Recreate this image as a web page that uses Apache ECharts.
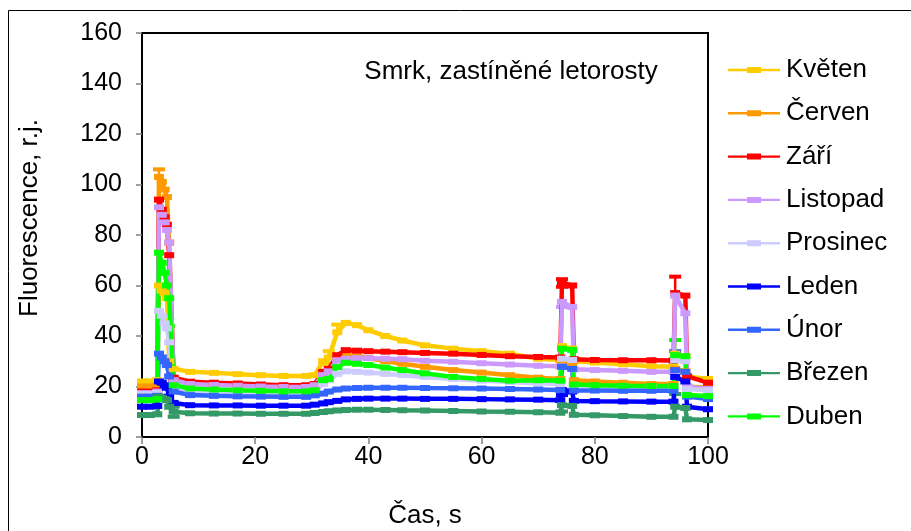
<!DOCTYPE html>
<html>
<head>
<meta charset="utf-8">
<script src="https://cdn.jsdelivr.net/npm/echarts@6/dist/echarts.min.js"></script>
<style>
  html, body { margin: 0; padding: 0; background: #fff; }
  #chart { width: 911px; height: 531px; }
</style>
</head>
<body>
<div id="chart"></div>
<script>
// Measurement times (s)
const times = [0, 1.4, 2.7, 3.0, 3.5, 4.0, 4.4, 4.8, 5.6, 8.5, 12.7, 16.9, 21, 25, 29,
  30.5, 32, 33, 34.5, 36, 38, 40, 43, 46, 50, 55, 60, 65, 70,
  73.9, 74.2, 76.0, 76.3, 80, 85, 90, 93.9, 94.2, 96.0, 96.3, 100];

// Fluorescence (r.j.) per month, aligned with `times`
const kveten   = [22, 22, 22.5, 60, 58, 57, 55, 30, 27, 25.8, 25.4, 24.9, 24.5, 24.2, 24.2,
  24.5, 30, 31.5, 41.5, 45.2, 44.3, 42.3, 40, 38.2, 36.3, 35, 34, 33, 31,
  30.5, 36, 35, 30, 29.5, 28.8, 28, 27.8, 33, 32, 24, 23];
const cerven   = [20, 20, 20.5, 103, 101, 98, 95, 77, 23, 21.5, 21, 20.8, 20.4, 20.1, 20,
  21, 25, 26.5, 31, 32.5, 32, 31.3, 30, 29, 27.8, 26.5, 25.5, 24.5, 23.5,
  23, 30, 29, 22.5, 22, 21.5, 21, 21, 27, 26, 20, 19.5];
const zari     = [18, 18, 18.5, 94, 90, 87, 84, 72, 23.5, 21.9, 21.5, 21.2, 20.8, 20.5, 20.5,
  21, 25.8, 27, 32.4, 34.4, 34.2, 34, 33.8, 33.6, 33.3, 33, 32.5, 32, 31.7,
  31.5, 61, 60, 30.8, 30.5, 30.4, 30.4, 30.3, 57, 56, 24, 21.5];
const listopad = [17.4, 17.4, 18, 91, 88, 85, 82, 77, 22.5, 21, 20.6, 20.3, 20, 19.8, 19.8,
  20.5, 24.5, 26, 30.4, 31, 31.2, 31.2, 31, 30.8, 30.2, 29.8, 29.2, 28.7, 28.2,
  28, 53.5, 51.5, 26.8, 26.5, 26.2, 25.8, 25.8, 56, 49, 20, 19];
const prosinec = [17, 17, 17.5, 50, 48, 45, 43, 37.5, 19.5, 18, 17.8, 17.5, 17.3, 17.2, 17.2,
  18, 21, 22.5, 25, 26, 25.8, 25.5, 25, 24.5, 23.8, 23, 22.3, 21.8, 21.2,
  21, 31, 30.5, 20.5, 20.2, 20, 19.8, 19.7, 30.4, 30, 19, 18.5];
const leden    = [12, 12, 12.3, 22, 21.5, 20.5, 19.5, 16, 13.5, 12.6, 12.5, 12.5, 12.4, 12.4, 12.4,
  12.8, 13.3, 13.8, 14.3, 14.9, 15.1, 15.2, 15.2, 15.2, 15.1, 15.1, 15, 14.9, 14.8,
  14.6, 18.6, 18, 14.3, 14.2, 14.1, 14, 14, 23.8, 22, 12, 11];
const unor     = [16, 16, 16.3, 33, 31.5, 30, 28.5, 24, 18, 16.6, 16.3, 16.1, 16, 15.9, 15.9,
  16.5, 17.2, 18, 18.8, 19.2, 19.4, 19.5, 19.5, 19.5, 19.4, 19.3, 19.2, 19, 18.8,
  18.6, 27.8, 27, 18.4, 18.4, 18.3, 18.3, 18.3, 26.5, 25.8, 16, 15];
const brezen   = [8.7, 8.7, 9, 16, 15.5, 15, 14.6, 12, 10, 9.4, 9.3, 9.3, 9.2, 9.2, 9.2,
  9.5, 9.9, 10.2, 10.5, 10.7, 10.8, 10.8, 10.7, 10.6, 10.5, 10.3, 10.1, 10, 9.8,
  9.6, 12.6, 12.3, 8.8, 8.6, 8.3, 8, 8, 12, 11.5, 7, 6.7];
const duben    = [14.6, 14.6, 15, 73, 69, 65, 60, 55, 20.5, 19.2, 18.8, 18.5, 18.3, 18.1, 18.1,
  18.5, 22.5, 23, 27.7, 29.4, 29, 28.5, 27.5, 26.5, 25.2, 23.8, 23, 22.3, 22.5,
  22.3, 35, 34.5, 20.8, 20.5, 20.3, 20.2, 20.2, 32.4, 32, 16.6, 16.2];

// Error bars: [time, minus, plus]
const errKveten   = [[33, 2.5, 2.5], [34.5, 0, 3]];
const errCerven   = [[3.0, 0, 3]];
const errZari     = [[74.2, 1.5, 1.5], [94.2, 0, 6.5]];
const errListopad = [[74.2, 2, 0]];
const errProsinec = [];
const errLeden    = [[74.2, 2, 0]];
const errUnor     = [[94.2, 0, 7.5]];
const errBrezen   = [[5.6, 2, 2], [74.2, 2.5, 0], [94.2, 0, 5]];
const errDuben    = [[4.8, 11, 0], [94.2, 0, 6]];

const names  = ['Květen', 'Červen', 'Září', 'Listopad', 'Prosinec', 'Leden', 'Únor', 'Březen', 'Duben'];
const colors = ['#FFCC00', '#FF9900', '#FF0000', '#CC99FF', '#CCCCFF', '#0000FF', '#3366FF', '#339966', '#00FF00'];
const values = [kveten, cerven, zari, listopad, prosinec, leden, unor, brezen, duben];
const errors = [errKveten, errCerven, errZari, errListopad, errProsinec, errLeden, errUnor, errBrezen, errDuben];

const FONT = 'Liberation Sans, Arial, sans-serif';

function errRenderer(color) {
  return function (params, api) {
    const x = api.value(0), lo = api.value(1), hi = api.value(2);
    const pLo = api.coord([x, lo]);
    const pHi = api.coord([x, hi]);
    const w = 6;
    const stem = { stroke: color, lineWidth: 2.5 };
    const cap = { stroke: color, lineWidth: 4 };
    const kids = [{ type: 'line', shape: { x1: pLo[0], y1: pLo[1], x2: pHi[0], y2: pHi[1] }, style: stem }];
    if (api.value(3) > 0) kids.push({ type: 'line', shape: { x1: pLo[0] - w, y1: pLo[1], x2: pLo[0] + w, y2: pLo[1] }, style: cap });
    if (api.value(4) > 0) kids.push({ type: 'line', shape: { x1: pHi[0] - w, y1: pHi[1], x2: pHi[0] + w, y2: pHi[1] }, style: cap });
    return { type: 'group', children: kids };
  };
}

const series = [];
names.forEach((name, i) => {
  series.push({
    name: name,
    type: 'line',
    data: times.map((t, k) => [t, values[i][k]]),
    color: colors[i],
    lineStyle: { width: 4.5, color: colors[i] },
    symbol: 'rect',
    symbolSize: [10, 6],
    itemStyle: { color: colors[i] },
    animation: false
  });
  series.push({
    name: name,
    type: 'custom',
    renderItem: errRenderer(colors[i]),
    data: errors[i].map(e => {
      const v = values[i][times.indexOf(e[0])];
      return [e[0], v - e[1], v + e[2], e[1], e[2]];
    }),
    encode: { x: 0, y: [1, 2] },
    animation: false,
    silent: true
  });
});

const legendIcon = 'path://M0,1.8 L52,1.8 L52,4.2 L0,4.2 Z M19,0 L33,0 L33,6 L19,6 Z';

const chart = echarts.init(document.getElementById('chart'), null, { renderer: 'canvas' });
chart.setOption({
  backgroundColor: '#fff',
  animation: false,
  title: {
    text: 'Smrk, zastíněné letorosty',
    left: 506,
    top: 54,
    textAlign: 'center',
    textStyle: { fontFamily: FONT, fontSize: 26, fontWeight: 'normal', color: '#000' }
  },
  grid: {
    left: 142, top: 33, right: 203, bottom: 94,
    outerBoundsMode: 'none',
    containLabel: false,
    show: true, borderColor: '#000', borderWidth: 2, backgroundColor: 'transparent'
  },
  legend: {
    orient: 'vertical',
    left: 728,
    top: 55,
    padding: 0,
    itemWidth: 52,
    itemHeight: 6,
    itemGap: 13.3,
    icon: legendIcon,
    data: names,
    itemStyle: { borderWidth: 0 },
    textStyle: { fontFamily: FONT, fontSize: 26, color: '#000', lineHeight: 30, padding: [0, 0, 0, 1] }
  },
  xAxis: {
    type: 'value', min: 0, max: 100, interval: 20,
    name: 'Čas, s', nameLocation: 'middle', nameGap: 66,
    nameTextStyle: { fontFamily: FONT, fontSize: 26, color: '#000' },
    axisLine: { show: true, onZero: false, lineStyle: { color: '#000', width: 2 } },
    axisTick: { show: true, inside: false, length: 7, lineStyle: { color: '#808080', width: 1.5 } },
    axisLabel: { fontFamily: FONT, fontSize: 25, color: '#000', margin: 8 },
    splitLine: { show: false }
  },
  yAxis: {
    type: 'value', min: 0, max: 160, interval: 20,
    axisLine: { show: true, lineStyle: { color: '#000', width: 2 } },
    axisTick: { show: true, inside: false, length: 6, lineStyle: { color: '#808080', width: 1.5 } },
    axisLabel: { fontFamily: FONT, fontSize: 25, color: '#000', margin: 20 },
    splitLine: { show: false }
  },
  graphic: [
    {
      type: 'rect', x: 8.5, y: 10.5, silent: true,
      shape: { width: 960, height: 600 },
      style: { fill: 'none', stroke: '#000', lineWidth: 1 }
    },
    {
      type: 'text', x: 30, y: 218, rotation: Math.PI / 2, silent: true,
      style: {
        text: 'Fluorescence, r.j.', fontFamily: FONT, fontSize: 26, fill: '#000',
        textAlign: 'center', textVerticalAlign: 'middle'
      }
    }
  ],
  series: series
});
</script>
</body>
</html>
